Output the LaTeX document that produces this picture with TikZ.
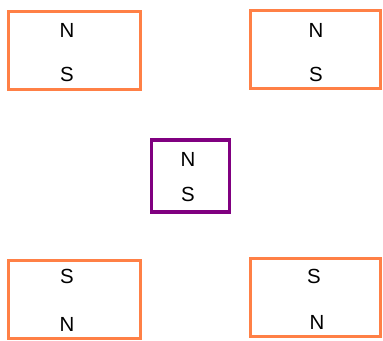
\documentclass[tikz,border=0pt]{standalone}
\usepackage{fontspec}
\setmainfont{Liberation Sans}
\definecolor{magorange}{RGB}{255,128,70}
\definecolor{magpurple}{RGB}{128,0,128}
\begin{document}
\begin{tikzpicture}[x=1bp,y=-1bp,
  magbox/.style={draw=magorange,line width=3bp,fill=white},
  centerbox/.style={draw=magpurple,line width=3.2bp,fill=white},
  pole/.style={inner sep=0pt,font=\fontsize{20.5}{20.5}\selectfont}]
\useasboundingbox (0,0) rectangle (383,341);
% top-left
\node[magbox,minimum width=132bp,minimum height=78bp] (b1) at (74.5,50) {};
\node[pole] (b1n) at (67,30) {N};
\node[pole] (b1s) at (67,74) {S};
% top-right
\node[magbox,minimum width=130bp,minimum height=78bp] (b2) at (315.5,49) {};
\node[pole] (b2n) at (316,30) {N};
\node[pole] (b2s) at (316,74) {S};
% center
\node[centerbox,minimum width=78bp,minimum height=72bp] (c) at (190.5,176) {};
\node[pole] (cn) at (188,159) {N};
\node[pole] (cs) at (188,194) {S};
% bottom-left
\node[magbox,minimum width=132bp,minimum height=78bp] (b3) at (74.5,299) {};
\node[pole] (b3s) at (67,276) {S};
\node[pole] (b3n) at (67,324) {N};
% bottom-right
\node[magbox,minimum width=130bp,minimum height=78bp] (b4) at (315.5,297.5) {};
\node[pole] (b4s) at (314,276) {S};
\node[pole] (b4n) at (317,322) {N};
\end{tikzpicture}
\end{document}
